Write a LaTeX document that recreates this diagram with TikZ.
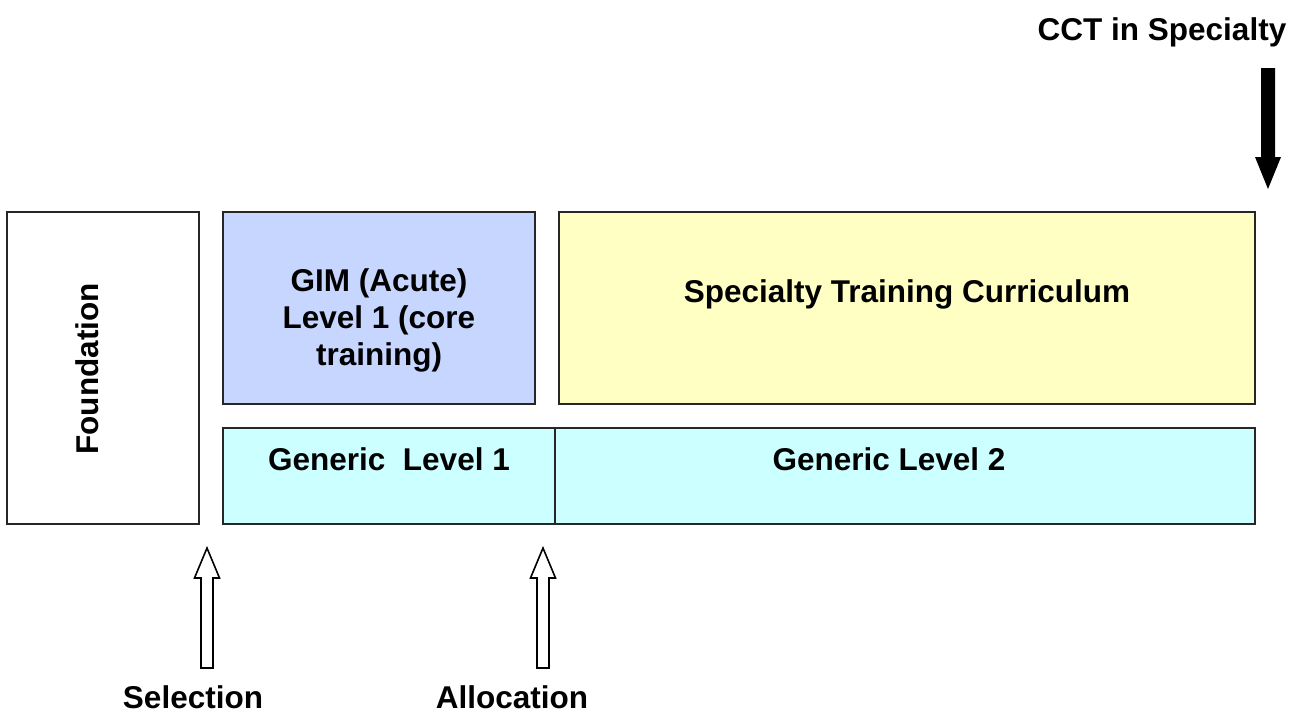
\documentclass[tikz,border=0pt]{standalone}
\usepackage{fontspec}
\setmainfont{Liberation Sans}
\begin{document}
\begin{tikzpicture}[x=1pt,y=-1pt,
  box/.style={draw=black!85,line width=2pt},
  lbl/.style={font=\bfseries\fontsize{31.5}{37}\selectfont,inner sep=0pt,align=center},
  hollow/.style={draw=black,line width=1.6pt,fill=white,line join=miter}]
\useasboundingbox (0,0) rectangle (1298,713);
\definecolor{gimblue}{RGB}{199,214,255}
\definecolor{specyellow}{RGB}{255,255,196}
\definecolor{gencyan}{RGB}{204,255,255}
% boxes
\draw[box,fill=white] (7,212) rectangle (199,524);
\draw[box,fill=gimblue] (223,212) rectangle (535,404);
\draw[box,fill=specyellow] (559,212) rectangle (1255,404);
\draw[box,fill=gencyan] (223,428) rectangle (555,524);
\draw[box,fill=gencyan] (555,428) rectangle (1255,524);
% named nodes for texts
\node[lbl,rotate=90] (found) at (87,369) {Foundation};
\node[lbl] (gim) at (379,320) {GIM (Acute)\\Level 1 (core\\training)};
\node[lbl,anchor=base] (spec) at (907,302) {Specialty Training Curriculum};
\node[lbl,anchor=base] (gen1) at (389,470) {Generic\ \ Level 1};
\node[lbl,anchor=base] (gen2) at (889,470) {Generic Level 2};
\node[lbl,anchor=base] (sel) at (193,708) {Selection};
\node[lbl,anchor=base] (alloc) at (512,708) {Allocation};
\node[lbl,anchor=base] (cct) at (1162,40) {CCT in Specialty};
% hollow up arrows
\coordinate (selTip) at (207,548);
\coordinate (allocTip) at (543,548);
\draw[hollow] (selTip) -- ++(12.5,30) -- ++(-6.5,0) -- ++(0,90) -- ++(-12,0) -- ++(0,-90) -- ++(-6.5,0) -- cycle;
\draw[hollow] (allocTip) -- ++(12.5,30) -- ++(-6.5,0) -- ++(0,90) -- ++(-12,0) -- ++(0,-90) -- ++(-6.5,0) -- cycle;
% black down arrow
\coordinate (cctTip) at (1268,189);
\fill[black] (cctTip) -- ++(13,-32) -- ++(-6,0) -- ++(0,-89) -- ++(-14,0) -- ++(0,89) -- ++(-6,0) -- cycle;
\end{tikzpicture}
\end{document}
